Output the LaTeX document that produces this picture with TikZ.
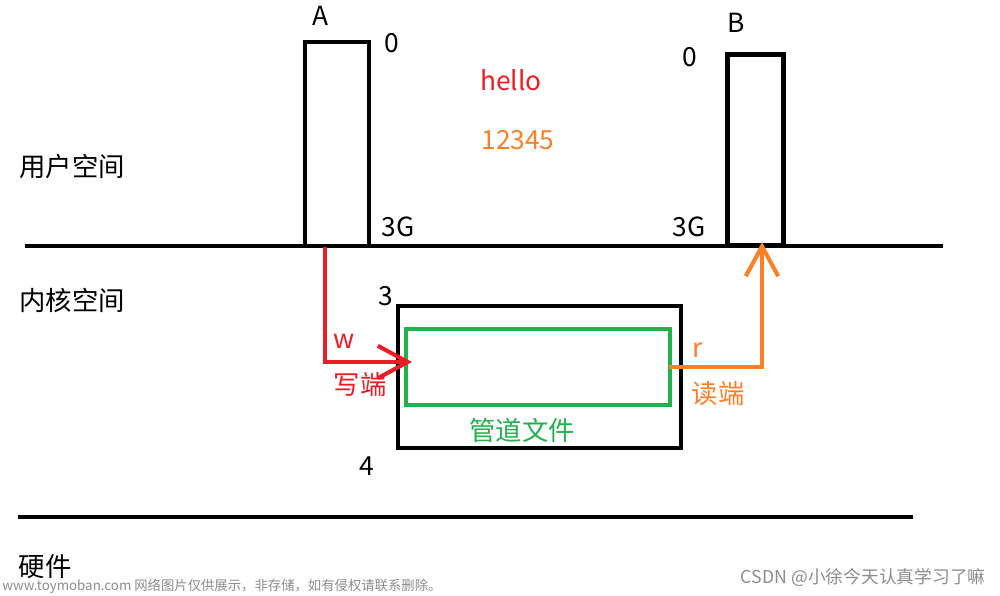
\documentclass[tikz,border=0pt]{standalone}
\usepackage{fontspec}
\setmainfont{Noto Sans CJK SC}
\usetikzlibrary{arrows.meta,calc}
\definecolor{pred}{HTML}{ED1C24}
\definecolor{porange}{HTML}{FF7F27}
\definecolor{pgreen}{HTML}{22B14C}
\definecolor{wm}{HTML}{8C8C8C}
\tikzset{
  blk/.style={draw=black,line width=2.3pt,inner sep=0pt,fill=none},
  lbl/.style={inner sep=0pt,font=\fontsize{15}{18}\selectfont},
  wlbl/.style={inner sep=0pt,font=\fontsize{7.6}{9}\selectfont,text=wm},
  barb/.style={-{Straight Barb[length=6mm,width=6.5mm]},line width=2.3pt},
}
\begin{document}
\begin{tikzpicture}[x=0.02cm,y=-0.02cm]
\useasboundingbox (0,0) rectangle (1000,595);
% lines
\coordinate (l1a) at (25,246); \coordinate (l1b) at (943,246);
\coordinate (l2a) at (18,517); \coordinate (l2b) at (913,517);
\draw[line width=2.3pt] (l1a) -- (l1b);
\draw[line width=2.3pt] (l2a) -- (l2b);
% process boxes
\node[blk,minimum width=1.28cm,minimum height=4.08cm] (Abox) at (337,144) {};
\node[blk,minimum width=1.12cm,minimum height=3.82cm] (Bbox) at (755.5,150) {};
% kernel boxes
\node[blk,minimum width=5.66cm,minimum height=2.84cm] (kbox) at (539.5,377) {};
\node[draw=pgreen,line width=2.3pt,inner sep=0pt,minimum width=5.28cm,minimum height=1.52cm] (green) at (538,367) {};
% labels
\node[lbl] (tA) at (321,16) {A};
\node[lbl] (tA0) at (392,43) {0};
\node[lbl] (tB) at (736,23) {B};
\node[lbl] (tB0) at (690,57) {0};
\node[lbl] (tA3) at (398,227) {3G};
\node[lbl] (tB3) at (689,227) {3G};
\node[lbl,text=pred] (hello) at (511,80) {hello};
\node[lbl,text=porange] (num) at (518,140) {12345};
\node[lbl] (user) at (72,166) {用户空间};
\node[lbl] (kern) at (72,300) {内核空间};
\node[lbl] (hw) at (45,567) {硬件};
\node[lbl] (t3) at (386,296) {3};
\node[lbl] (t4) at (367,466) {4};
\node[lbl,text=pred] (w) at (344,341) {w};
\node[lbl,text=pred] (wend) at (360,385) {写端};
\node[lbl,text=porange] (r) at (698,350) {r};
\node[lbl,text=porange] (rend) at (718,394) {读端};
\node[lbl,text=pgreen] (pipe) at (522,430) {管道文件};
% arrows
\coordinate (ws) at (325,247);
\coordinate (we) at (412,362);
\draw[barb,draw=pred] (ws) |- (we);
\coordinate (rs) at (669,367);
\coordinate (re) at (762,242);
\draw[barb,draw=porange] (rs) -| (re);
% watermarks
\node[wlbl,anchor=west] (wm1) at (2,586) {www.toymoban.com 网络图片仅供展示，非存储，如有侵权请联系删除。};
\node[wlbl,anchor=east,font=\fontsize{10.1}{11}\selectfont] (wm2) at (986,577) {CSDN @小徐今天认真学习了嘛};
\end{tikzpicture}
\end{document}
